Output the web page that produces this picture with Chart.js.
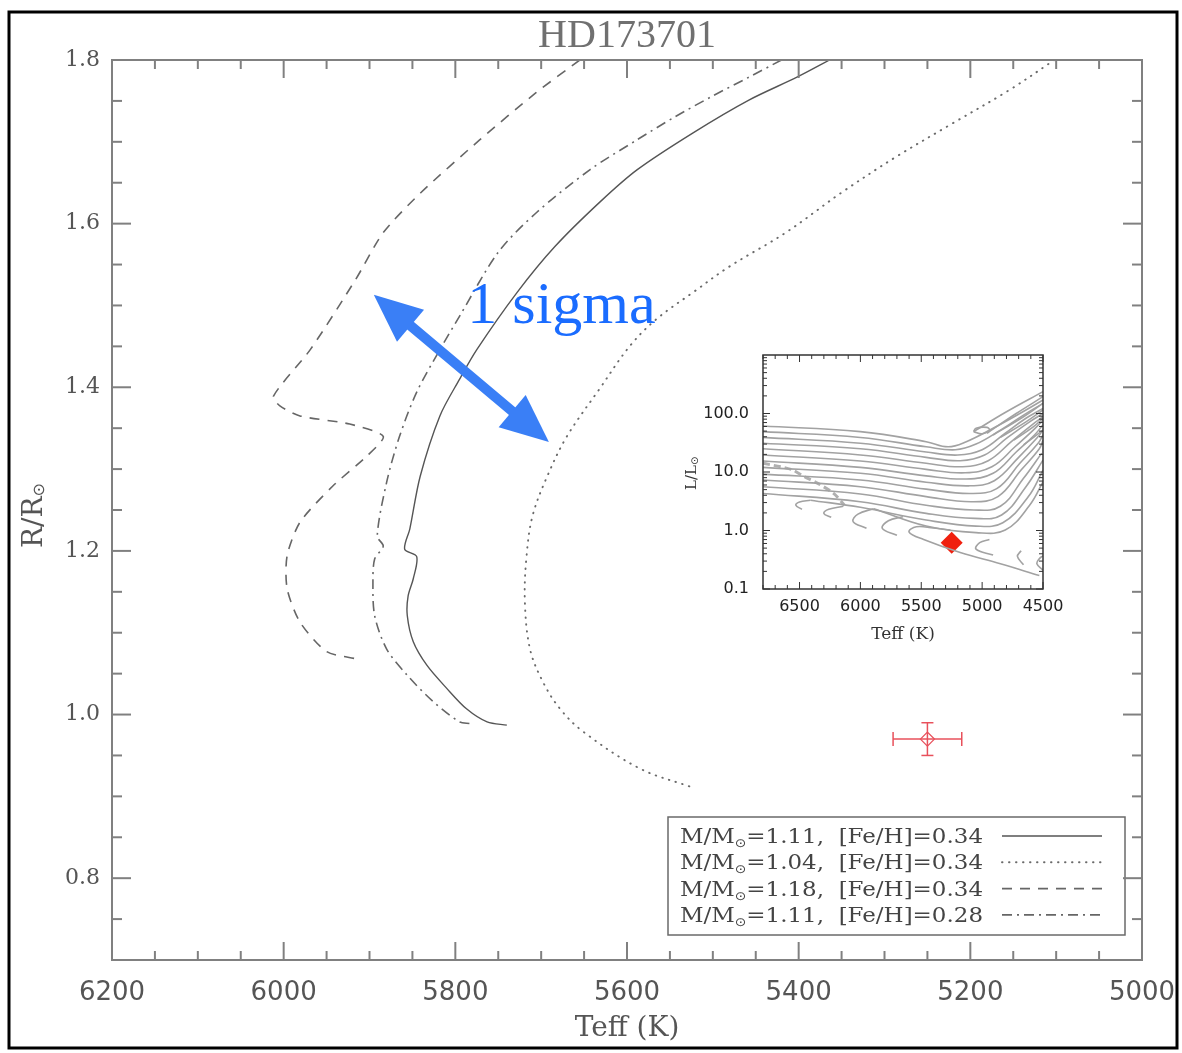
<!DOCTYPE html>
<html>
<head>
<meta charset="utf-8">
<script src="https://cdn.jsdelivr.net/npm/chart.js@4.4.1/dist/chart.umd.min.js"></script>
<style>
  html, body { margin: 0; padding: 0; background: #fff; }
  #wrap { position: relative; width: 1182px; height: 1053px; }
  #main { position: absolute; left: 0; top: 0; }
  #inset { position: absolute; left: 680px; top: 340px; }
</style>
</head>
<body>
<div id="wrap">
  <canvas id="main" width="1182" height="1053"></canvas>
  <canvas id="inset" width="405" height="310"></canvas>
</div>
<script>
// ---- main panel data (Teff in K, radius in solar units) ----
const teffTicks = [6200, 6000, 5800, 5600, 5400, 5200, 5000];
const radiusTicks = [0.8, 1.0, 1.2, 1.4, 1.6, 1.8];

// M=1.11, [Fe/H]=0.34 (solid)
const solidTeff = [5364, 5402, 5458, 5523, 5588, 5632, 5684, 5728, 5775, 5795, 5818, 5841, 5853, 5859, 5845, 5849, 5855, 5856, 5849, 5833, 5810, 5787, 5763, 5740];
const solidR = [1.800, 1.779, 1.751, 1.711, 1.666, 1.626, 1.572, 1.516, 1.446, 1.410, 1.365, 1.291, 1.227, 1.202, 1.193, 1.166, 1.145, 1.121, 1.089, 1.060, 1.032, 1.007, 0.991, 0.987];
// M=1.04, [Fe/H]=0.34 (dotted)
const dottedTeff = [5102, 5155, 5220, 5286, 5350, 5415, 5480, 5523, 5566, 5597, 5632, 5670, 5693, 5710, 5717, 5719, 5713, 5698, 5678, 5651, 5585, 5524];
const dottedR = [1.800, 1.763, 1.723, 1.682, 1.638, 1.589, 1.548, 1.516, 1.483, 1.450, 1.398, 1.340, 1.291, 1.243, 1.194, 1.138, 1.080, 1.040, 1.007, 0.979, 0.934, 0.911];
// M=1.18, [Fe/H]=0.34 (dashed)
const dashedTeff = [5655, 5706, 5772, 5840, 5884, 5916, 5969, 6012, 6004, 5981, 5923, 5884, 5903, 5943, 5981, 5996, 5996, 5981, 5950, 5915];
const dashedR = [1.800, 1.760, 1.702, 1.638, 1.589, 1.532, 1.446, 1.389, 1.377, 1.365, 1.355, 1.340, 1.316, 1.279, 1.235, 1.194, 1.154, 1.113, 1.077, 1.068];
// M=1.11, [Fe/H]=0.28 (dash-dot)
const dashDotTeff = [5420, 5458, 5502, 5545, 5589, 5643, 5706, 5750, 5795, 5818, 5845, 5865, 5880, 5891, 5884, 5894, 5896, 5894, 5880, 5856, 5826, 5795, 5783];
const dashDotR = [1.800, 1.779, 1.755, 1.730, 1.702, 1.666, 1.613, 1.565, 1.487, 1.446, 1.394, 1.340, 1.284, 1.218, 1.206, 1.190, 1.162, 1.121, 1.080, 1.048, 1.016, 0.991, 0.989];

const legendMass = ['1.11', '1.04', '1.18', '1.11'];
const legendFeH = ['0.34', '0.34', '0.34', '0.28'];

// observed star with 1-sigma errors
const obsTeff = [5250];
const obsR = [0.97];
const obsTeffErr = [40];
const obsRErr = [0.02];

// "1 sigma" annotation, in data units
const sigmaArrowTeff = [5895, 5691];
const sigmaArrowR = [1.513, 1.333];
const sigmaTextAt = [5786, 1.479];

// ---- inset data (Teff in K, L in solar units) ----
const insetTeffTicks = [6500, 6000, 5500, 5000, 4500];
const insetLumTicks = [0.1, 1, 10, 100];
const insetTracksTeff = [
  [6800, 6000, 5460, 5280, 5130, 4910, 4690, 4500],
  [6800, 6000, 5460, 5220, 5050, 4850, 4660, 4500],
  [6800, 6000, 5460, 5200, 5000, 4810, 4640, 4500],
  [6800, 6000, 5460, 5180, 4980, 4790, 4610, 4500],
  [6800, 6000, 5460, 5160, 4950, 4760, 4590, 4500],
  [6800, 6000, 5460, 5140, 4920, 4730, 4580, 4500],
  [6800, 6000, 5460, 5130, 4910, 4720, 4570, 4500],
  [6800, 6000, 5460, 5110, 4900, 4700, 4550, 4500],
  [6800, 6000, 5460, 5100, 4880, 4690, 4540, 4500],
  [6800, 6000, 5460, 5090, 4870, 4680, 4530, 4500],
  [6800, 6000, 5460, 5070, 4850, 4660, 4510],
  [6800, 6000, 5460, 5060, 4840, 4640, 4500],
  [6410, 6000, 5460, 5050, 4830, 4620, 4500],
  [5890, 5460, 5050, 4810, 4610, 4500],
  [6480, 6530, 6500, 6410],
  [6240, 6300, 6260, 6140],
  [5950, 6060, 6020, 5890],
  [5700, 5820, 5770, 5650],
  [4530, 4850, 5180, 5480, 5600, 5540, 5400, 5260],
  [4910, 5050, 5020, 4940],
  [4660, 4710, 4680],
  [4500, 4550, 4530, 4500],
  [5070, 4800, 4500],
  [4960, 4720, 4500],
  [4910, 4660, 4500],
  [4850, 4640, 4500],
  [4740, 4580, 4500],
  [4660, 4500],
  [5070, 5050, 4960, 4940, 5000, 5070]
];
const insetTracksLum = [
  [61, 49, 33, 27, 33, 56, 100, 170],
  [49, 39, 27, 24, 30, 52, 94, 149],
  [39, 31, 22, 19.5, 24, 46, 83, 122],
  [31, 25, 17.8, 15.6, 19.5, 39, 72, 100],
  [25, 19.5, 14.1, 12.3, 15.6, 33, 64, 88],
  [19.5, 15.4, 11.1, 9.7, 12.3, 27, 52, 77],
  [15.4, 12.0, 8.6, 7.6, 9.5, 22, 43, 64],
  [12.0, 9.5, 6.7, 5.8, 7.1, 17.8, 38, 52],
  [9.2, 7.3, 5.1, 4.3, 5.2, 14.1, 31, 43],
  [7.3, 5.6, 3.8, 3.1, 3.8, 10.8, 25, 35],
  [5.6, 4.2, 2.7, 2.24, 2.6, 7.8, 21],
  [4.3, 3.1, 1.96, 1.61, 1.84, 5.6, 16],
  [3.3, 2.49, 1.51, 1.19, 1.36, 3.8, 10.8],
  [2.36, 1.19, 0.92, 1.02, 2.7, 6.8],
  [2.3, 2.7, 3.07, 3.3],
  [1.68, 1.96, 2.3, 2.6],
  [1.09, 1.42, 1.91, 2.36],
  [0.83, 1.09, 1.47, 1.72],
  [0.17, 0.27, 0.42, 0.70, 0.94, 1.16, 1.10, 1.02],
  [0.38, 0.48, 0.62, 0.70],
  [0.26, 0.36, 0.45],
  [0.21, 0.27, 0.33, 0.37],
  [49, 107, 236],
  [46, 100, 194],
  [43, 88, 149],
  [39, 72, 115],
  [35, 59, 83],
  [29, 52],
  [49, 56, 58, 52, 45, 49]
];
const insetBandTeff = [6800, 6570, 6460, 6350, 6220, 6130];
const insetBandLum = [14.1, 11.1, 8.3, 6.4, 4.3, 2.7];
const insetStarTeff = [5250];
const insetStarLum = [0.62];

const zip = (xs, ys) => xs.map((v, i) => ({ x: v, y: ys[i] }));

function line(ctx, x1, y1, x2, y2) {
  ctx.beginPath();
  ctx.moveTo(x1, y1);
  ctx.lineTo(x2, y2);
  ctx.stroke();
}

function drawArrowHead(ctx, tipX, tipY, fromX, fromY, len, half) {
  const ang = Math.atan2(tipY - fromY, tipX - fromX);
  const bx = tipX - len * Math.cos(ang), by = tipY - len * Math.sin(ang);
  ctx.beginPath();
  ctx.moveTo(tipX, tipY);
  ctx.lineTo(bx + half * Math.sin(ang), by - half * Math.cos(ang));
  ctx.lineTo(bx - half * Math.sin(ang), by + half * Math.cos(ang));
  ctx.closePath();
  ctx.fill();
}

function drawLegendLabel(ctx, x, y, mass, feh, width) {
  ctx.save();
  const big = "20px 'DejaVu Serif'", small = "12px 'DejaVu Sans'";
  const a = 'M/M', c = '=' + mass + ',  [Fe/H]=' + feh;
  ctx.font = big;
  const wa = ctx.measureText(a).width, wc = ctx.measureText(c).width;
  ctx.font = small;
  const wb = ctx.measureText('\u2299').width;
  const s = width / (wa + wb + wc);
  ctx.translate(x, y);
  ctx.scale(s, 1);
  ctx.font = big;
  ctx.fillText(a, 0, 0);
  ctx.font = small;
  ctx.fillText('\u2299', wa, 4);
  ctx.font = big;
  ctx.fillText(c, wa + wb, 0);
  ctx.restore();
}

// keep the plot area exactly where the layout padding says
const noScalePadding = (s) => { s.paddingLeft = 0; s.paddingRight = 0; s.paddingTop = 0; s.paddingBottom = 0; };

// axes box with inward ticks on all four sides, plus all the overlays
const mainDecor = {
  id: 'mainDecor',
  afterDatasetsDraw(chart) {
    const { ctx, scales: { x, y } } = chart;
    ctx.save();

    // error bars of the observed star
    const cx = x.getPixelForValue(obsTeff[0]), cy = y.getPixelForValue(obsR[0]);
    const x1 = x.getPixelForValue(obsTeff[0] + obsTeffErr[0]), x2 = x.getPixelForValue(obsTeff[0] - obsTeffErr[0]);
    const y1 = y.getPixelForValue(obsR[0] + obsRErr[0]), y2 = y.getPixelForValue(obsR[0] - obsRErr[0]);
    ctx.strokeStyle = '#e8505b';
    ctx.lineWidth = 1.5;
    line(ctx, x1, cy, x2, cy);
    line(ctx, cx, y1, cx, y2);
    line(ctx, x1, cy - 7, x1, cy + 7);
    line(ctx, x2, cy - 7, x2, cy + 7);
    line(ctx, cx - 6, y1, cx + 6, y1);
    line(ctx, cx - 6, y2, cx + 6, y2);

    // 1 sigma arrow and text
    const ax1 = x.getPixelForValue(sigmaArrowTeff[0]), ay1 = y.getPixelForValue(sigmaArrowR[0]);
    const ax2 = x.getPixelForValue(sigmaArrowTeff[1]), ay2 = y.getPixelForValue(sigmaArrowR[1]);
    const ang = Math.atan2(ay2 - ay1, ax2 - ax1);
    ctx.strokeStyle = '#3a7ff6';
    ctx.fillStyle = '#3a7ff6';
    ctx.lineWidth = 10;
    line(ctx, ax1 + 30 * Math.cos(ang), ay1 + 30 * Math.sin(ang), ax2 - 30 * Math.cos(ang), ay2 - 30 * Math.sin(ang));
    drawArrowHead(ctx, ax1, ay1, ax2, ay2, 48, 21);
    drawArrowHead(ctx, ax2, ay2, ax1, ay1, 48, 21);
    ctx.fillStyle = '#1a6cff';
    ctx.font = "60px 'Liberation Serif'";
    ctx.textAlign = 'left';
    ctx.textBaseline = 'alphabetic';
    ctx.fillText('1 sigma', x.getPixelForValue(sigmaTextAt[0]), y.getPixelForValue(sigmaTextAt[1]));

    // legend box
    const lx = 668, ly = 817, lw = 457, lh = 118;
    ctx.fillStyle = '#fff';
    ctx.fillRect(lx, ly, lw, lh);
    ctx.strokeStyle = '#6a6a6a';
    ctx.lineWidth = 1.5;
    ctx.strokeRect(lx, ly, lw, lh);
    ctx.fillStyle = '#444';
    chart.data.datasets.slice(0, 4).forEach((ds, i) => {
      const rowY = ly + 19 + i * 26.3;
      drawLegendLabel(ctx, lx + 12, rowY + 7, legendMass[i], legendFeH[i], 303);
      ctx.save();
      ctx.strokeStyle = ds.borderColor;
      ctx.lineWidth = ds.borderWidth;
      ctx.lineCap = ds.borderCapStyle || 'butt';
      ctx.setLineDash(ds.borderDash || []);
      line(ctx, lx + 334, rowY, lx + 434, rowY);
      ctx.restore();
    });
    ctx.restore();
  },
  afterDraw(chart) {
    const { ctx, chartArea: a, scales: { x, y } } = chart;
    ctx.save();
    ctx.strokeStyle = '#808080';
    ctx.lineWidth = 2;
    ctx.strokeRect(a.left, a.top, a.right - a.left, a.bottom - a.top);
    for (let t = 5000; t <= 6200; t += 50) {
      const px = x.getPixelForValue(t);
      const len = t % 200 === 0 ? 18 : 9;
      line(ctx, px, a.bottom, px, a.bottom - len);
      line(ctx, px, a.top, px, a.top + len);
    }
    for (let v = 70; v <= 180; v += 5) {
      const py = y.getPixelForValue(v / 100);
      const len = v % 20 === 0 ? 19 : 10;
      line(ctx, a.left, py, a.left + len, py);
      line(ctx, a.right, py, a.right - len, py);
    }

    // title and axis titles
    ctx.fillStyle = '#707070';
    ctx.textAlign = 'center';
    ctx.textBaseline = 'alphabetic';
    ctx.font = "40px 'Liberation Serif'";
    ctx.fillText('HD173701', (a.left + a.right) / 2, 47);
    ctx.fillStyle = '#555';
    ctx.font = "28px 'DejaVu Serif'";
    ctx.fillText('Teff (K)', (a.left + a.right) / 2, 1036);

    ctx.save();
    ctx.translate(42, 512);
    ctx.rotate(-Math.PI / 2);
    ctx.font = "28px 'DejaVu Serif'";
    ctx.textAlign = 'left';
    const w = ctx.measureText('R/R').width;
    ctx.fillText('R/R', -36, 0);
    ctx.font = "16px 'DejaVu Sans'";
    ctx.fillText('\u2299', -36 + w, 2);
    ctx.restore();

    // outer black frame of the figure
    ctx.strokeStyle = '#000';
    ctx.lineWidth = 3;
    ctx.strokeRect(9, 12, 1168, 1036);
    ctx.restore();
  }
};

new Chart(document.getElementById('main'), {
  type: 'scatter',
  data: {
    datasets: [
      { data: zip(solidTeff, solidR), showLine: true, borderColor: '#555', borderWidth: 1.4, borderDash: [], pointRadius: 0, tension: 0.3 },
      { data: zip(dottedTeff, dottedR), showLine: true, borderColor: '#6a6a6a', borderWidth: 1.9, borderCapStyle: 'round', borderDash: [0.5, 6.5], pointRadius: 0, tension: 0.35 },
      { data: zip(dashedTeff, dashedR), showLine: true, borderColor: '#666', borderWidth: 1.6, borderDash: [10, 8], pointRadius: 0, tension: 0.25 },
      { data: zip(dashDotTeff, dashDotR), showLine: true, borderColor: '#666', borderWidth: 1.6, borderDash: [10, 5, 2, 5], pointRadius: 0, tension: 0.3 },
      { data: zip(obsTeff, obsR), showLine: false, pointStyle: 'rectRot', pointRadius: 7, pointBorderWidth: 1.3, pointBorderColor: '#e8505b', pointBackgroundColor: 'rgba(0,0,0,0)' }
    ]
  },
  options: {
    responsive: false,
    animation: false,
    layout: { padding: { left: 0, top: 60, right: 40, bottom: 0 } },
    plugins: { legend: { display: false }, tooltip: { enabled: false } },
    scales: {
      x: {
        type: 'linear', min: 5000, max: 6200, reverse: true,
        afterBuildTicks: (s) => { s.ticks = teffTicks.map(v => ({ value: v })); },
        afterFit: (s) => { s.height = 93; noScalePadding(s); },
        grid: { display: false, drawTicks: false },
        border: { display: false },
        ticks: { padding: 18, color: '#555', font: { family: 'DejaVu Sans', size: 26 }, callback: (v) => String(v), maxRotation: 0 }
      },
      y: {
        type: 'linear', min: 0.7, max: 1.8,
        afterBuildTicks: (s) => { s.ticks = radiusTicks.map(v => ({ value: v })); },
        afterFit: (s) => { s.width = 112; noScalePadding(s); },
        grid: { display: false, drawTicks: false },
        border: { display: false },
        ticks: { padding: 12, color: '#555', font: { family: 'DejaVu Serif', size: 22 }, callback: (v) => Number(v).toFixed(1) }
      }
    }
  },
  plugins: [mainDecor]
});

// ---- inset ----
const insetDecor = {
  id: 'insetDecor',
  afterDraw(chart) {
    const { ctx, chartArea: a, scales: { x, y } } = chart;
    ctx.save();
    ctx.strokeStyle = '#333';
    ctx.lineWidth = 1.5;
    ctx.strokeRect(a.left, a.top, a.right - a.left, a.bottom - a.top);
    ctx.lineWidth = 1;
    for (let t = 4500; t <= 6800; t += 100) {
      const px = x.getPixelForValue(t);
      const len = t % 500 === 0 ? 7 : 4;
      line(ctx, px, a.bottom, px, a.bottom - len);
      line(ctx, px, a.top, px, a.top + len);
    }
    for (let d = 0.1; d < 1000; d *= 10) {
      for (let k = 1; k <= 9; k++) {
        const py = y.getPixelForValue(d * k);
        const len = k === 1 ? 7 : 4;
        line(ctx, a.left, py, a.left + len, py);
        line(ctx, a.right, py, a.right - len, py);
      }
    }
    ctx.fillStyle = '#333';
    ctx.textAlign = 'center';
    ctx.textBaseline = 'alphabetic';
    ctx.font = "17px 'DejaVu Serif'";
    ctx.fillText('Teff (K)', (a.left + a.right) / 2, 299);
    ctx.save();
    ctx.translate(16, 130);
    ctx.rotate(-Math.PI / 2);
    ctx.textAlign = 'left';
    ctx.font = "15px 'DejaVu Serif'";
    const w = ctx.measureText('L/L').width;
    ctx.fillText('L/L', -20, 0);
    ctx.font = "10px 'DejaVu Sans'";
    ctx.fillText('\u2299', -20 + w, 2);
    ctx.restore();
    ctx.restore();
  }
};

const insetDatasets = insetTracksTeff.map((ts, i) => ({
  data: zip(ts, insetTracksLum[i]),
  showLine: true, borderColor: '#a2a2a2', borderWidth: 1.6, pointRadius: 0, tension: 0.4
}));
insetDatasets.push({
  data: zip(insetBandTeff, insetBandLum),
  showLine: true, borderColor: '#b0b0b0', borderWidth: 3, borderDash: [7, 4], pointRadius: 0, tension: 0.3
});
insetDatasets.push({
  data: zip(insetStarTeff, insetStarLum),
  showLine: false, pointStyle: 'rectRot', pointRadius: 11, pointBorderWidth: 0,
  pointBackgroundColor: '#f0200f', pointBorderColor: '#f0200f'
});

new Chart(document.getElementById('inset'), {
  type: 'scatter',
  data: { datasets: insetDatasets },
  options: {
    responsive: false,
    animation: false,
    layout: { padding: { left: 0, top: 15, right: 42, bottom: 0 } },
    plugins: { legend: { display: false }, tooltip: { enabled: false } },
    scales: {
      x: {
        type: 'linear', min: 4500, max: 6800, reverse: true,
        afterBuildTicks: (s) => { s.ticks = insetTeffTicks.map(v => ({ value: v })); },
        afterFit: (s) => { s.height = 61; noScalePadding(s); },
        grid: { display: false, drawTicks: false },
        border: { display: false },
        ticks: { padding: 8, color: '#222', font: { family: 'DejaVu Sans', size: 16 }, callback: (v) => String(v), maxRotation: 0 }
      },
      y: {
        type: 'logarithmic', min: 0.1, max: 1000,
        afterBuildTicks: (s) => { s.ticks = insetLumTicks.map(v => ({ value: v })); },
        afterFit: (s) => { s.width = 83; noScalePadding(s); },
        grid: { display: false, drawTicks: false },
        border: { display: false },
        ticks: { padding: 14, color: '#222', font: { family: 'DejaVu Sans', size: 16 }, callback: (v) => Number(v).toFixed(1) }
      }
    }
  },
  plugins: [insetDecor]
});
</script>
</body>
</html>
